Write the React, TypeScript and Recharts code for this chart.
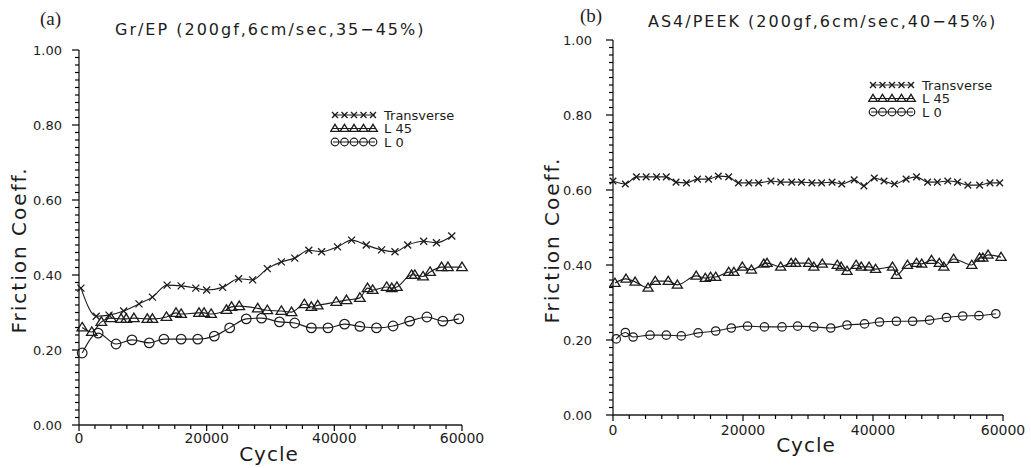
import { LineChart, Line, XAxis, YAxis, Legend } from "recharts"

const ink = "#1c1c1c"
const font = "'DejaVu Sans', sans-serif"

// axis ticks
const yMajor = [0, 0.2, 0.4, 0.6, 0.8, 1]
const yTicks = Array.from({ length: 51 }, (_, i) => +(i * 0.02).toFixed(2))
const xMajor = [0, 20000, 40000, 60000]
const xTicks = Array.from({ length: 25 }, (_, i) => i * 2500)

const seriesNames = ["Transverse", "L 45", "L 0"]
const markerKinds = ["cross", "triangle", "circle"]

// (a) Gr/EP  -- [cycle, friction coeff.]
const grTransverse = [
  [300, 0.365], [2700, 0.29], [4700, 0.293], [7000, 0.304], [9400, 0.323], [11500, 0.341],
  [13800, 0.373], [16000, 0.371], [18300, 0.365], [20000, 0.36], [22500, 0.367], [25000, 0.39],
  [27200, 0.387], [29500, 0.417], [31700, 0.435], [33800, 0.445], [36000, 0.466], [38000, 0.462],
  [40500, 0.475], [42700, 0.493], [45000, 0.48], [47400, 0.467], [49500, 0.462], [51500, 0.48],
  [54000, 0.49], [56000, 0.486], [58400, 0.504],
]
const grL45 = [
  [500, 0.26], [2000, 0.248], [3500, 0.275], [5000, 0.285], [6600, 0.283], [7400, 0.283],
  [8600, 0.285], [10700, 0.283], [11500, 0.283], [13700, 0.288], [15200, 0.299], [16000, 0.296],
  [18800, 0.299], [19600, 0.299], [20700, 0.296], [23100, 0.307], [23900, 0.315], [25100, 0.317],
  [28000, 0.311], [29500, 0.306], [31700, 0.304], [33300, 0.301], [35300, 0.322], [36400, 0.315],
  [37400, 0.319], [40300, 0.328], [41900, 0.333], [44000, 0.339], [45200, 0.365], [46000, 0.36],
  [48200, 0.368], [49000, 0.365], [49800, 0.368], [52100, 0.4], [52600, 0.4], [53900, 0.396],
  [55000, 0.408], [56800, 0.421], [57800, 0.421], [60000, 0.421],
]
const grL0 = [
  [500, 0.192], [3000, 0.245], [5800, 0.216], [8300, 0.227], [11000, 0.219], [13300, 0.229],
  [16000, 0.229], [18600, 0.229], [21200, 0.237], [23600, 0.259], [26200, 0.283], [28600, 0.285],
  [31400, 0.275], [33800, 0.272], [36400, 0.259], [39000, 0.259], [41600, 0.269], [44000, 0.263],
  [46600, 0.259], [49200, 0.264], [51800, 0.277], [54500, 0.288], [57000, 0.277], [59500, 0.283],
]

// (b) AS4/PEEK
const peekTransverse = [
  [0, 0.624], [1900, 0.616], [3600, 0.635], [5100, 0.635], [6700, 0.635], [8200, 0.635],
  [9700, 0.621], [11300, 0.619], [13000, 0.629], [14700, 0.629], [16200, 0.637], [17800, 0.635],
  [19300, 0.619], [20900, 0.619], [22400, 0.619], [24300, 0.624], [25800, 0.621], [27500, 0.621],
  [29000, 0.621], [30600, 0.619], [32100, 0.619], [33700, 0.621], [35200, 0.616], [37100, 0.627],
  [38600, 0.611], [40200, 0.632], [41700, 0.624], [43300, 0.616], [45100, 0.629], [46700, 0.635],
  [48400, 0.621], [49900, 0.621], [51500, 0.624], [53000, 0.621], [54600, 0.613], [56400, 0.613],
  [58000, 0.619], [59500, 0.619],
]
const peekL45 = [
  [300, 0.352], [2000, 0.363], [3400, 0.355], [5400, 0.339], [6500, 0.357], [8500, 0.357],
  [9900, 0.347], [12800, 0.371], [14200, 0.365], [15000, 0.368], [15800, 0.368], [17800, 0.381],
  [18600, 0.381], [19900, 0.395], [21300, 0.387], [23200, 0.403], [23700, 0.405], [25800, 0.395],
  [27400, 0.405], [28100, 0.405], [30100, 0.405], [30900, 0.395], [32200, 0.403], [34500, 0.4],
  [35100, 0.395], [36000, 0.384], [37400, 0.4], [38200, 0.395], [39400, 0.395], [40400, 0.389],
  [43000, 0.395], [43600, 0.373], [45300, 0.4], [46700, 0.405], [47500, 0.403], [49000, 0.413],
  [50200, 0.405], [50900, 0.395], [52400, 0.416], [55200, 0.4], [56400, 0.419], [56900, 0.419],
  [57700, 0.427], [59700, 0.421],
]
const peekL0 = [
  [500, 0.203], [1900, 0.22], [3100, 0.208], [5700, 0.213], [8200, 0.213], [10500, 0.211],
  [13100, 0.219], [15800, 0.224], [18200, 0.232], [20700, 0.237], [23300, 0.235], [26000, 0.235],
  [28400, 0.237], [30900, 0.235], [33500, 0.232], [36000, 0.24], [38700, 0.243], [41000, 0.248],
  [43600, 0.25], [46100, 0.25], [48700, 0.253], [51300, 0.26], [53800, 0.264], [56300, 0.265],
  [58900, 0.27],
]

const rows = (pairs: number[][]) => pairs.map(([cycle, v]) => ({ cycle, v }))

function Marker({ kind, cx, cy, s }: any) {
  if (kind === "cross")
    return (
      <path d={`M${cx - s},${cy - s}L${cx + s},${cy + s}M${cx - s},${cy + s}L${cx + s},${cy - s}`}
        stroke={ink} strokeWidth={1.3} fill="none" />
    )
  if (kind === "triangle")
    return (
      <path d={`M${cx},${cy - s * 1.1}L${cx + s * 1.15},${cy + s * 0.75}L${cx - s * 1.15},${cy + s * 0.75}Z`}
        stroke={ink} strokeWidth={1.3} fill="none" />
    )
  return <circle cx={cx} cy={cy} r={s} stroke={ink} strokeWidth={1.2} fill="none" />
}

function Panel({ left, width, top, right, yAxisWidth, xAxisHeight, series, sizes, yGap, xGap, legendPos }: any) {
  const YTick = ({ x, y, payload }: any) => {
    const v = payload.value
    const major = yMajor.some((m) => Math.abs(m - v) < 1e-6)
    if (!major) return <g />
    return (
      <text x={x - yGap} y={y + 5} textAnchor="end" fontSize={13} fontFamily={font} fill={ink}>
        {v.toFixed(2)}
      </text>
    )
  }
  const XTick = ({ x, y, payload }: any) => {
    const v = payload.value
    if (!xMajor.includes(v)) return <g />
    return (
      <text x={x} y={y + xGap} textAnchor="middle" fontSize={14} fontFamily={font} fill={ink}>
        {v}
      </text>
    )
  }
  const legend = () => (
    <svg width={140} height={46}>
      {seriesNames.map((name, i) => {
        const cy = 8 + i * 13.5
        return (
          <g key={name}>
            <line x1={3} x2={45} y1={cy} y2={cy} stroke={ink} strokeWidth={1} />
            {[0, 1, 2, 3, 4].map((k) => (
              <Marker key={k} kind={markerKinds[i]} cx={5 + k * 9.5} cy={cy} s={i === 0 ? 3 : 3.8} />
            ))}
            <text x={54} y={cy + 4.5} fontSize={13} fontFamily={font} fill={ink}>{name}</text>
          </g>
        )
      })}
    </svg>
  )
  return (
    <div style={{ position: "absolute", left, top: 0 }}>
      <LineChart width={width} height={468} margin={{ top, right, left: 0, bottom: 0 }}>
        <XAxis type="number" dataKey="cycle" domain={[0, 60000]} ticks={xTicks} interval={0}
          tick={XTick} tickLine={false} tickSize={0} tickMargin={0}
          height={xAxisHeight} axisLine={{ stroke: ink, strokeWidth: 1.3 }} />
        <YAxis type="number" domain={[0, 1]} ticks={yTicks} interval={0} tick={YTick}
          tickLine={false} tickSize={0} tickMargin={0} width={yAxisWidth}
          axisLine={{ stroke: ink, strokeWidth: 1.3 }} />
        <Legend layout="vertical" align="center" verticalAlign="middle" content={legend}
          wrapperStyle={{ left: legendPos[0], top: legendPos[1], width: 140 }} />
        {series.map((d: number[][], i: number) => (
          <Line key={seriesNames[i]} name={seriesNames[i]} data={rows(d)} dataKey="v" type="monotone"
            stroke={ink} strokeWidth={1.1} isAnimationActive={false}
            dot={(p: any) => <Marker key={p.index} kind={markerKinds[i]} cx={p.cx} cy={p.cy} s={sizes[i]} />} />
        ))}
      </LineChart>
    </div>
  )
}

// ruler marks along both axes of one panel (plot box in page pixels)
function AxisMarks({ x0, y0, w, h }: any) {
  return (
    <g stroke="#000" strokeWidth={1.2}>
      {yTicks.map((v) => {
        const major = yMajor.some((m) => Math.abs(m - v) < 1e-6)
        const y = y0 + h - v * h
        return <line key={"y" + v} x1={x0 - (major ? 7 : 4)} x2={x0} y1={y} y2={y} />
      })}
      {xTicks.map((c) => {
        const x = x0 + (c / 60000) * w
        return <line key={"x" + c} x1={x} x2={x} y1={y0 + h} y2={y0 + h + (xMajor.includes(c) ? 6 : 4)} />
      })}
    </g>
  )
}

function Overlay() {
  const serif = "'Liberation Serif', serif"
  return (
    <svg width={1031} height={468} style={{ position: "absolute", left: 0, top: 0, pointerEvents: "none" }}>
      <AxisMarks x0={79} y0={50} w={383} h={375} />
      <AxisMarks x0={613} y0={40} w={390} h={375} />
      <text x={40} y={25} fontSize={19} fontFamily={serif} fill={ink}>(a)</text>
      <text x={115} y={35} fontSize={16} letterSpacing={2} fontFamily={font} fill={ink}>
        Gr/EP (200gf,6cm/sec,35−45%)
      </text>
      <text x={580} y={22} fontSize={19} fontFamily={serif} fill={ink}>(b)</text>
      <text x={648} y={27} fontSize={16} letterSpacing={2} fontFamily={font} fill={ink}>
        AS4/PEEK (200gf,6cm/sec,40−45%)
      </text>
      <text x={19} y={250} transform="rotate(-90 19 250)" textAnchor="middle" dominantBaseline="central"
        fontSize={20} letterSpacing={2} fontFamily={font} fill={ink}>Friction Coeff.</text>
      <text x={552} y={240} transform="rotate(-90 552 240)" textAnchor="middle" dominantBaseline="central"
        fontSize={20} letterSpacing={2} fontFamily={font} fill={ink}>Friction Coeff.</text>
      <text x={269} y={461} textAnchor="middle" fontSize={20} letterSpacing={1} fontFamily={font} fill={ink}>Cycle</text>
      <text x={806} y={452} textAnchor="middle" fontSize={20} letterSpacing={1} fontFamily={font} fill={ink}>Cycle</text>
    </svg>
  )
}

export default function App() {
  return (
    <div style={{ position: "absolute", left: 0, top: 0, width: 1031, height: 468, background: "#fff" }}>
      <Panel left={0} width={515} top={50} right={53} yAxisWidth={79} xAxisHeight={43}
        series={[grTransverse, grL45, grL0]} sizes={[3.5, 4.6, 4.8]} yGap={17} xGap={18}
        legendPos={[330, 107]} />
      <Panel left={515} width={516} top={40} right={28} yAxisWidth={98} xAxisHeight={53}
        series={[peekTransverse, peekL45, peekL0]} sizes={[3.3, 4.4, 4.2]} yGap={21} xGap={20}
        legendPos={[353, 77]} />
      <Overlay />
    </div>
  )
}
